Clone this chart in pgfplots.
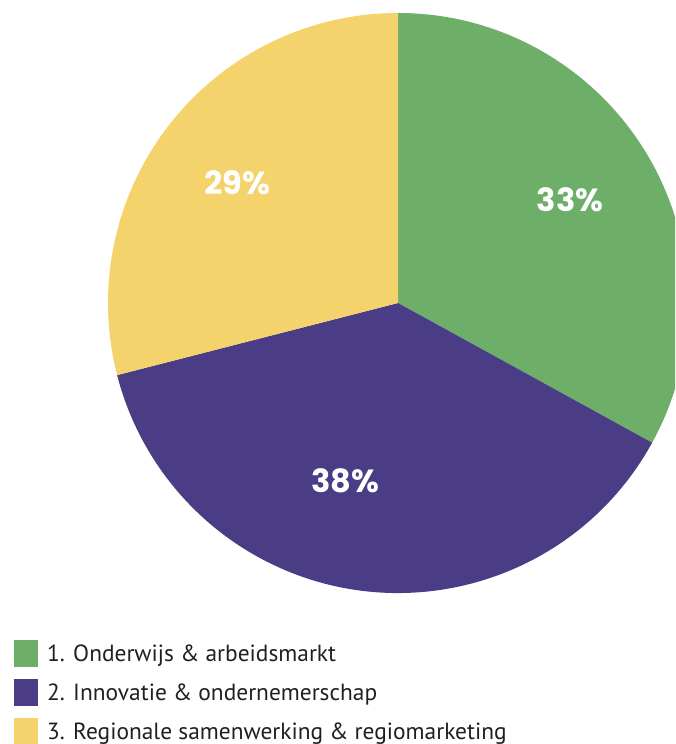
\documentclass[border=0pt]{standalone}
\usepackage{fontspec}
\setmainfont{PT Sans}
\newfontfamily\pctfont{Poppins}
\usepackage{pgfplots}
\usepackage{pgfplotstable}
\pgfplotsset{compat=1.18}

\definecolor{cgreen}{HTML}{6DAE69}
\definecolor{cpurple}{HTML}{4B3C86}
\definecolor{cyellow}{HTML}{F5D36C}
\definecolor{ctext}{HTML}{231F20}

% share of each theme in percent
\pgfplotstableread{
share
33
38
29
}\piedata

\pgfplotstablegetelem{0}{share}\of\piedata \let\sA\pgfplotsretval
\pgfplotstablegetelem{1}{share}\of\piedata \let\sB\pgfplotsretval
\pgfplotstablegetelem{2}{share}\of\piedata \let\sC\pgfplotsretval
\pgfmathsetmacro\aA{90-3.6*\sA}
\pgfmathsetmacro\aB{\aA-3.6*\sB}
\pgfmathsetmacro\aC{\aB-3.6*\sC}

\begin{document}
\begin{tikzpicture}
\useasboundingbox (0,0) rectangle (675pt,744pt);
\clip (0,0) rectangle (675pt,744pt);
\begin{axis}[
    at={(0,0)}, anchor=south west,
    scale only axis, width=675pt, height=744pt,
    xmin=0, xmax=675, ymin=0, ymax=744,
    hide axis, clip=false,
    legend style={at={(0.0207,0.1398)}, anchor=north west,
        draw=none, fill=none, inner sep=0pt, row sep=12pt, column sep=9pt,
        nodes={inner sep=0pt, text=ctext},
        font=\fontsize{23.4}{28}\selectfont},
    legend cell align=left,
    legend image code/.code={\fill[#1, draw=none] (0pt,-13.5pt) rectangle (24pt,13.5pt);},
]
    % slices, clockwise from the top
    \fill[cgreen]  (axis cs:398,441) -- (axis cs:398,731)
        arc[start angle=90, end angle=\aA, radius=290pt] -- cycle;
    \fill[cpurple] (axis cs:398,441) -- ++(\aA:290pt)
        arc[start angle=\aA, end angle=\aB, radius=290pt] -- cycle;
    \fill[cyellow] (axis cs:398,441) -- ++(\aB:290pt)
        arc[start angle=\aB, end angle=\aC, radius=290pt] -- cycle;

    \node[text=white, font=\pctfont\bfseries\fontsize{32}{32}\selectfont] at (axis cs:570,544) {33\%};
    \node[text=white, font=\pctfont\bfseries\fontsize{32}{32}\selectfont] at (axis cs:345,263) {38\%};
    \node[text=white, font=\pctfont\bfseries\fontsize{32}{32}\selectfont] at (axis cs:237,561) {29\%};

    \addlegendimage{fill=cgreen}
    \addlegendentry{1. Onderwijs \& arbeidsmarkt}
    \addlegendimage{fill=cpurple}
    \addlegendentry{2. Innovatie \& ondernemerschap}
    \addlegendimage{fill=cyellow}
    \addlegendentry{3. Regionale samenwerking \& regiomarketing}
\end{axis}
\end{tikzpicture}
\end{document}
